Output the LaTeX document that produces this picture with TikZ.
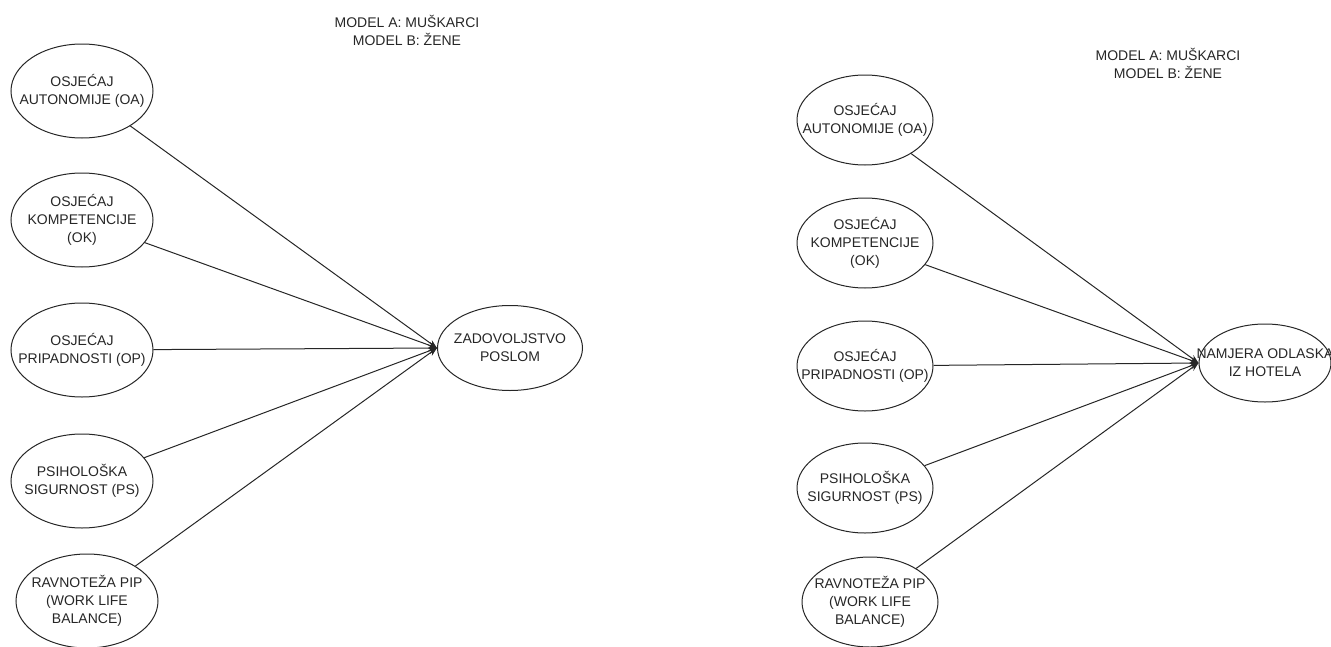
\documentclass[tikz,border=0pt]{standalone}
\usepackage{fontspec}
\setmainfont{Liberation Sans}
\usepackage{tikz}
\usetikzlibrary{positioning,arrows.meta,shapes.geometric}

\tikzset{
  var/.style={ellipse,draw=black!85,line width=0.75pt,inner sep=0pt,minimum width=106.5pt,minimum height=70.5pt},
  varR/.style={var,minimum width=102pt,minimum height=67.5pt},
  txt/.style={align=center,font=\fontsize{10.5}{13.5}\selectfont,text=black!85},
  veza/.style={->,line width=0.75pt,draw=black!85},
}

\begin{document}
\begin{tikzpicture}[x=0.75pt,y=-0.75pt,>={Stealth[length=6.5pt,width=5pt]}]
  \useasboundingbox (0,0) rectangle (1331,646);
  % lijevi model
  \node[txt] (naslovA) at (407,30) {MODEL A: MUŠKARCI\\MODEL B: ŽENE};
  \node[var,label={[txt]center:OSJEĆAJ\\AUTONOMIJE (OA)}] (oa) at (82,91) {};
  \node[var,label={[txt]center:OSJEĆAJ\\KOMPETENCIJE\\(OK)}] (ok) at (82,220) {};
  \node[var,label={[txt]center:OSJEĆAJ\\PRIPADNOSTI (OP)}] (op) at (82,350) {};
  \node[var,label={[txt]center:PSIHOLOŠKA\\SIGURNOST (PS)}] (ps) at (82,481) {};
  \node[var,label={[txt]center:RAVNOTEŽA PIP\\(WORK LIFE\\BALANCE)}] (pip) at (87,601) {};
  \node[var,minimum width=108.75pt,minimum height=63.75pt,label={[txt]center:ZADOVOLJSTVO\\POSLOM}] (zad) at (510,348) {};
  \foreach \n in {oa,ok,op,ps,pip} \draw[veza] (\n) -- (zad.west);
  % desni model
  \node[txt] (naslovB) at (1168,63.5) {MODEL A: MUŠKARCI\\MODEL B: ŽENE};
  \node[varR,label={[txt]center:OSJEĆAJ\\AUTONOMIJE (OA)}] (oa2) at (865,120) {};
  \node[varR,label={[txt]center:OSJEĆAJ\\KOMPETENCIJE\\(OK)}] (ok2) at (865,243) {};
  \node[varR,label={[txt]center:OSJEĆAJ\\PRIPADNOSTI (OP)}] (op2) at (865,366) {};
  \node[varR,label={[txt]center:PSIHOLOŠKA\\SIGURNOST (PS)}] (ps2) at (865,488) {};
  \node[varR,label={[txt]center:RAVNOTEŽA PIP\\(WORK LIFE\\BALANCE)}] (pip2) at (870,602) {};
  \node[var,minimum width=99pt,minimum height=58.5pt,label={[txt]center:NAMJERA ODLASKA\\IZ HOTELA}] (nam) at (1265,363) {};
  \foreach \n in {oa2,ok2,op2,ps2,pip2} \draw[veza] (\n) -- (nam.west);
\end{tikzpicture}
\end{document}
